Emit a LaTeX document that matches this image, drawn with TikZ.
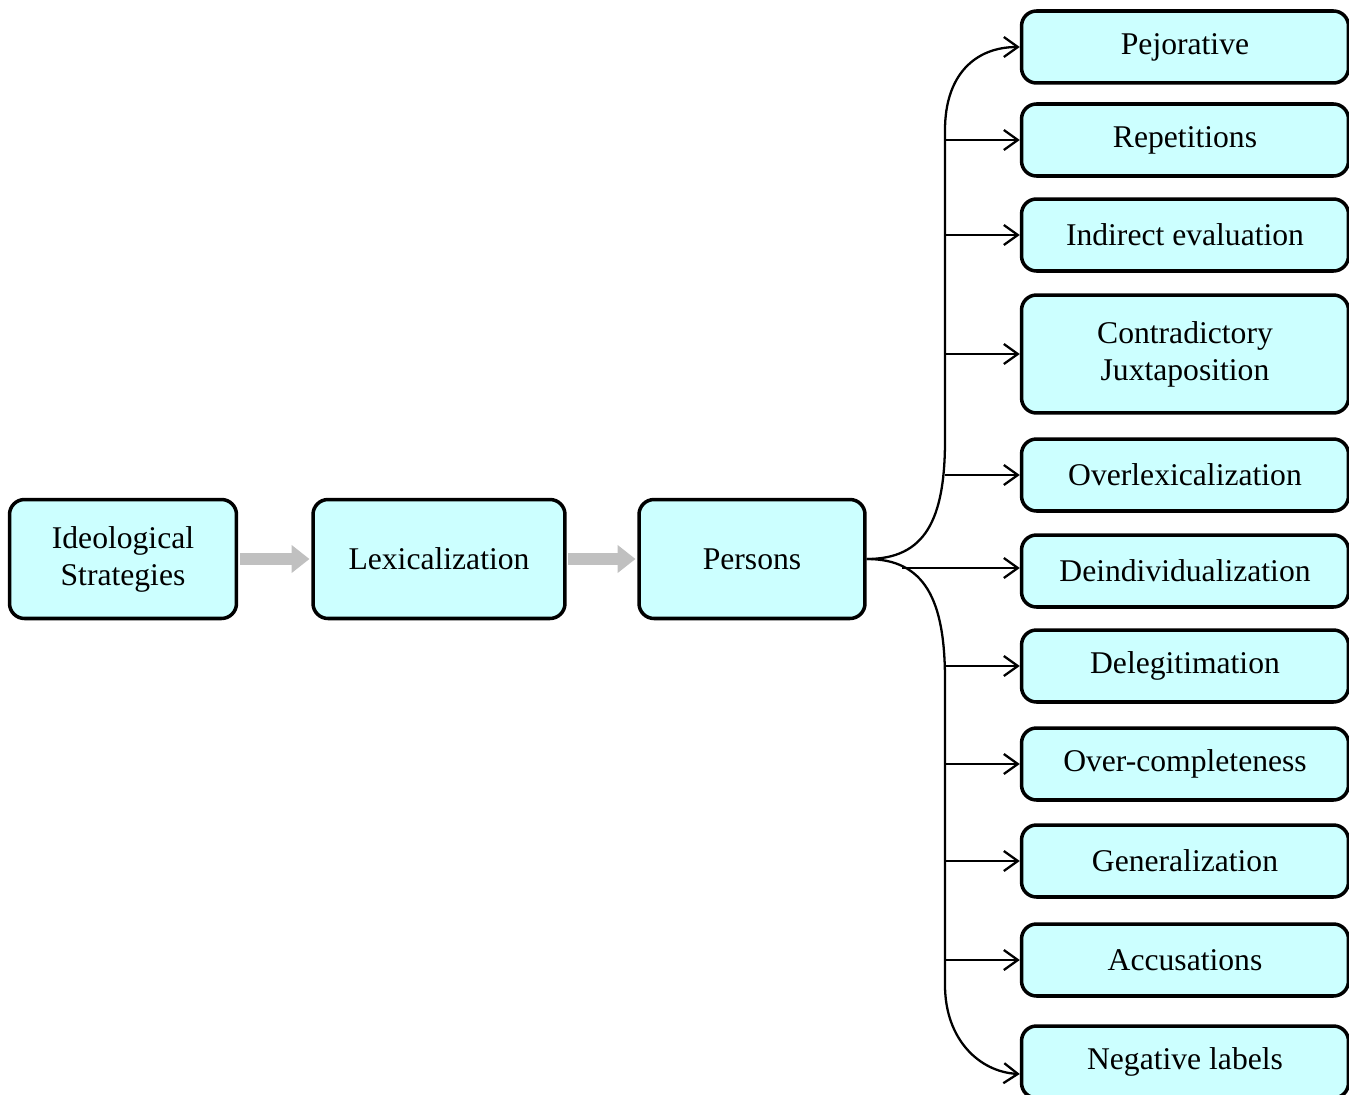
\documentclass[tikz,border=0pt]{standalone}
\usepackage{fontspec}
\setmainfont{Liberation Serif}
\usetikzlibrary{arrows.meta}
\definecolor{boxfill}{RGB}{204,255,255}
\definecolor{flowgray}{RGB}{192,192,192}

\begin{document}
\begin{tikzpicture}[
    x=0.02cm, y=-0.02cm,
    font=\fontsize{18}{21}\selectfont,
    box/.style={draw=black, fill=boxfill, line width=2pt, rounded corners=0.3cm,
                align=center, inner sep=2pt, minimum height=1.44cm},
    leaf/.style={box, minimum width=6.54cm},
    flow/.style={flowgray, line width=6.5pt,
                 -{Triangle[length=0.36cm, width=0.54cm]}, shorten <=1pt, shorten >=1pt},
    conn/.style={black, line width=1.3pt, -{Straight Barb[length=0.28cm, width=0.4cm]}},
  ]

  % ---- cornice: 1349 x 1095 px, y verso il basso ---------------------------
  \useasboundingbox (0,0) rectangle (1349,1095);

  % ---- catena a sinistra ----------------------------------------------------
  \node[box, minimum width=4.54cm, minimum height=2.38cm] (ideo) at (123,559) {Ideological\\Strategies};
  \node[box, minimum width=5.04cm, minimum height=2.38cm] (lex)  at (439,559) {Lexicalization};
  \node[box, minimum width=4.52cm, minimum height=2.38cm] (pers) at (752,559) {Persons};

  \draw[flow] (ideo.east) -- (lex.west);
  \draw[flow] (lex.east) -- (pers.west);

  % ---- colonna delle strategie ---------------------------------------------
  \node[leaf] (pej)  at (1185,47)   {Pejorative};
  \node[leaf] (rep)  at (1185,140)  {Repetitions};
  \node[leaf] (ind)  at (1185,235)  {Indirect evaluation};
  \node[leaf, minimum height=2.36cm] (contr) at (1185,354) {Contradictory\\Juxtaposition};
  \node[leaf] (over) at (1185,475)  {Overlexicalization};
  \node[leaf] (dei)  at (1185,571)  {Deindividualization};
  \node[leaf] (deleg) at (1185,666) {Delegitimation};
  \node[leaf] (compl) at (1185,764) {Over-completeness};
  \node[leaf] (gen)  at (1185,861)  {Generalization};
  \node[leaf] (acc)  at (1185,960)  {Accusations};
  \node[leaf] (neg)  at (1185,1062) {Negative labels};

  % ---- tronco verticale e rami ---------------------------------------------
  \coordinate (trunk) at (945,559);
  \coordinate (fork)  at (902,559);

  \draw[conn] (pers.east) .. controls (925,559) and (945,520) .. (945,440)
              -- (945,130) .. controls (945,75) and (975,47) .. (pej.west);
  \draw[conn] (pers.east) .. controls (925,559) and (945,600) .. (945,680)
              -- (945,985) .. controls (945,1040) and (980,1072) .. ([yshift=-0.24cm]neg.west);

  \foreach \n in {rep,ind,contr,over,deleg,compl,gen,acc}
    \draw[conn] (trunk |- \n.west) -- (\n.west);
  \draw[conn] ([yshift=0.06cm]fork |- dei.west) -- ([yshift=0.06cm]dei.west);

\end{tikzpicture}
\end{document}
